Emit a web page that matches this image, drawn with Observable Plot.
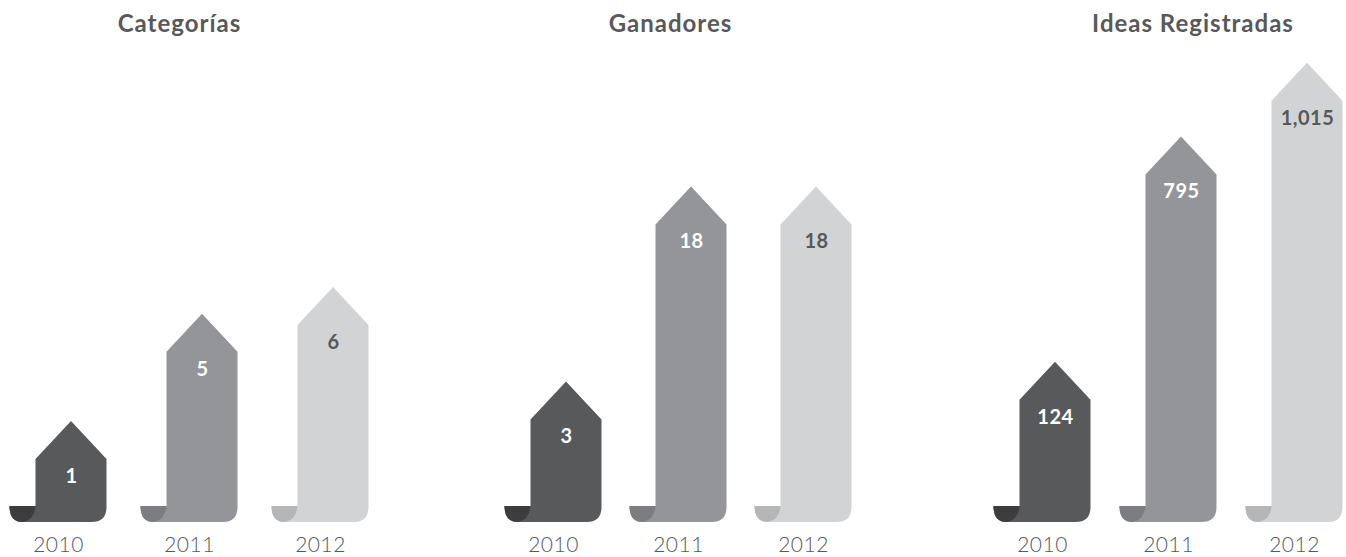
<!DOCTYPE html>
<html><head><meta charset="utf-8">
<script src="https://cdn.jsdelivr.net/npm/d3@7"></script>
<script src="https://cdn.jsdelivr.net/npm/@observablehq/plot@0.6"></script>
<style>
html,body{margin:0;padding:0;background:#fff;}
#chart{position:relative;width:1346px;height:557px;font-family:Lato,"Open Sans",sans-serif;}
.title{position:absolute;top:8px;transform:translateX(-50%);white-space:nowrap;font-weight:700;font-size:24px;letter-spacing:1px;color:#58595b;line-height:normal;}
.panel{position:absolute;top:50px;}
</style></head><body><div id="chart"></div>
<script>
// ---- data ----
const years = ["2010", "2011", "2012"];
const categorias = [1, 5, 6];
const ganadores = [3, 18, 18];
const ideas = [124, 795, 1015];
const panelTitles = ["Categorías", "Ganadores", "Ideas Registradas"];

// ---- styles ----
const bodyColors = ["#58595b", "#939598", "#d1d3d4"];
const curlColors = ["#3d3d3f", "#7c7d80", "#b5b6b8"];
const labelColors = ["#ffffff", "#ffffff", "#58595b"];
const HW = 35.5, HEAD = 38, OFFSET = 13;
const fmt = d3.format(",");

const panels = [
  {title: panelTitles[0], values: categorias, yDomain: [-2.77, 14.85], left: 0, width: 449, marginLeft: 57, marginRight: 129, titleX: 179.5},
  {title: panelTitles[1], values: ganadores, yDomain: [-7.8, 28.5], left: 449, width: 449, marginLeft: 103.5, marginRight: 94, titleX: 670.5},
  {title: panelTitles[2], values: ideas, yDomain: [-353.3, 1052.7], left: 898, width: 448, marginLeft: 143.5, marginRight: 51, titleX: 1193}
];

function arrows(rows) {
  return (index, scales, values, dimensions) => {
    const g = d3.create("svg:g");
    const x = scales.x, y = scales.y;
    const base = dimensions.height - dimensions.marginBottom;
    rows.forEach((d, i) => {
      const cx = x(d.year) + OFFSET, tip = y(d.value);
      const L = cx - HW, R = cx + HW;
      g.append("path").attr("fill", bodyColors[i]).attr("d",
        `M${L-26},${base-16}L${L},${base-16}L${L},${tip+HEAD}L${cx},${tip}L${R},${tip+HEAD}L${R},${base-15}` +
        `Q${R},${base} ${R-15},${base}L${L-13},${base}Q${L-26},${base} ${L-26},${base-16}Z`);
      g.append("path").attr("fill", curlColors[i]).attr("d",
        `M${L-26},${base-16}L${L},${base-16}Q${L-1},${base-2} ${L-13},${base}Q${L-26},${base} ${L-26},${base-16}Z`);
    });
    return g.node();
  };
}

const chart = document.getElementById("chart");
panels.forEach(p => {
  const rows = years.map((year, i) => ({year, value: p.values[i], color: labelColors[i]}));
  const t = document.createElement("div");
  t.className = "title";
  t.style.left = p.titleX + "px";
  t.textContent = p.title;
  chart.appendChild(t);

  const svg = Plot.plot({
    width: p.width, height: 507,
    marginLeft: p.marginLeft, marginRight: p.marginRight, marginTop: 0, marginBottom: 35,
    style: {fontFamily: "Lato, 'Open Sans', sans-serif", fontSize: "21px", fontWeight: 300, letterSpacing: "0.5px", color: "#58595b", background: "transparent", overflow: "visible"},
    x: {type: "point", domain: years, padding: 0, label: null, tickSize: 0, tickPadding: 15},
    y: {domain: p.yDomain, axis: null},
    color: {type: "identity"},
    marks: [
      arrows(rows),
      Plot.text(rows, {x: "year", y: "value", text: d => fmt(d.value), dx: OFFSET, dy: 55, fill: "color", fontSize: 20, fontWeight: 700})
    ]
  });
  const wrap = document.createElement("div");
  wrap.className = "panel";
  wrap.style.left = p.left + "px";
  wrap.appendChild(svg);
  chart.appendChild(wrap);
});
</script></body></html>
